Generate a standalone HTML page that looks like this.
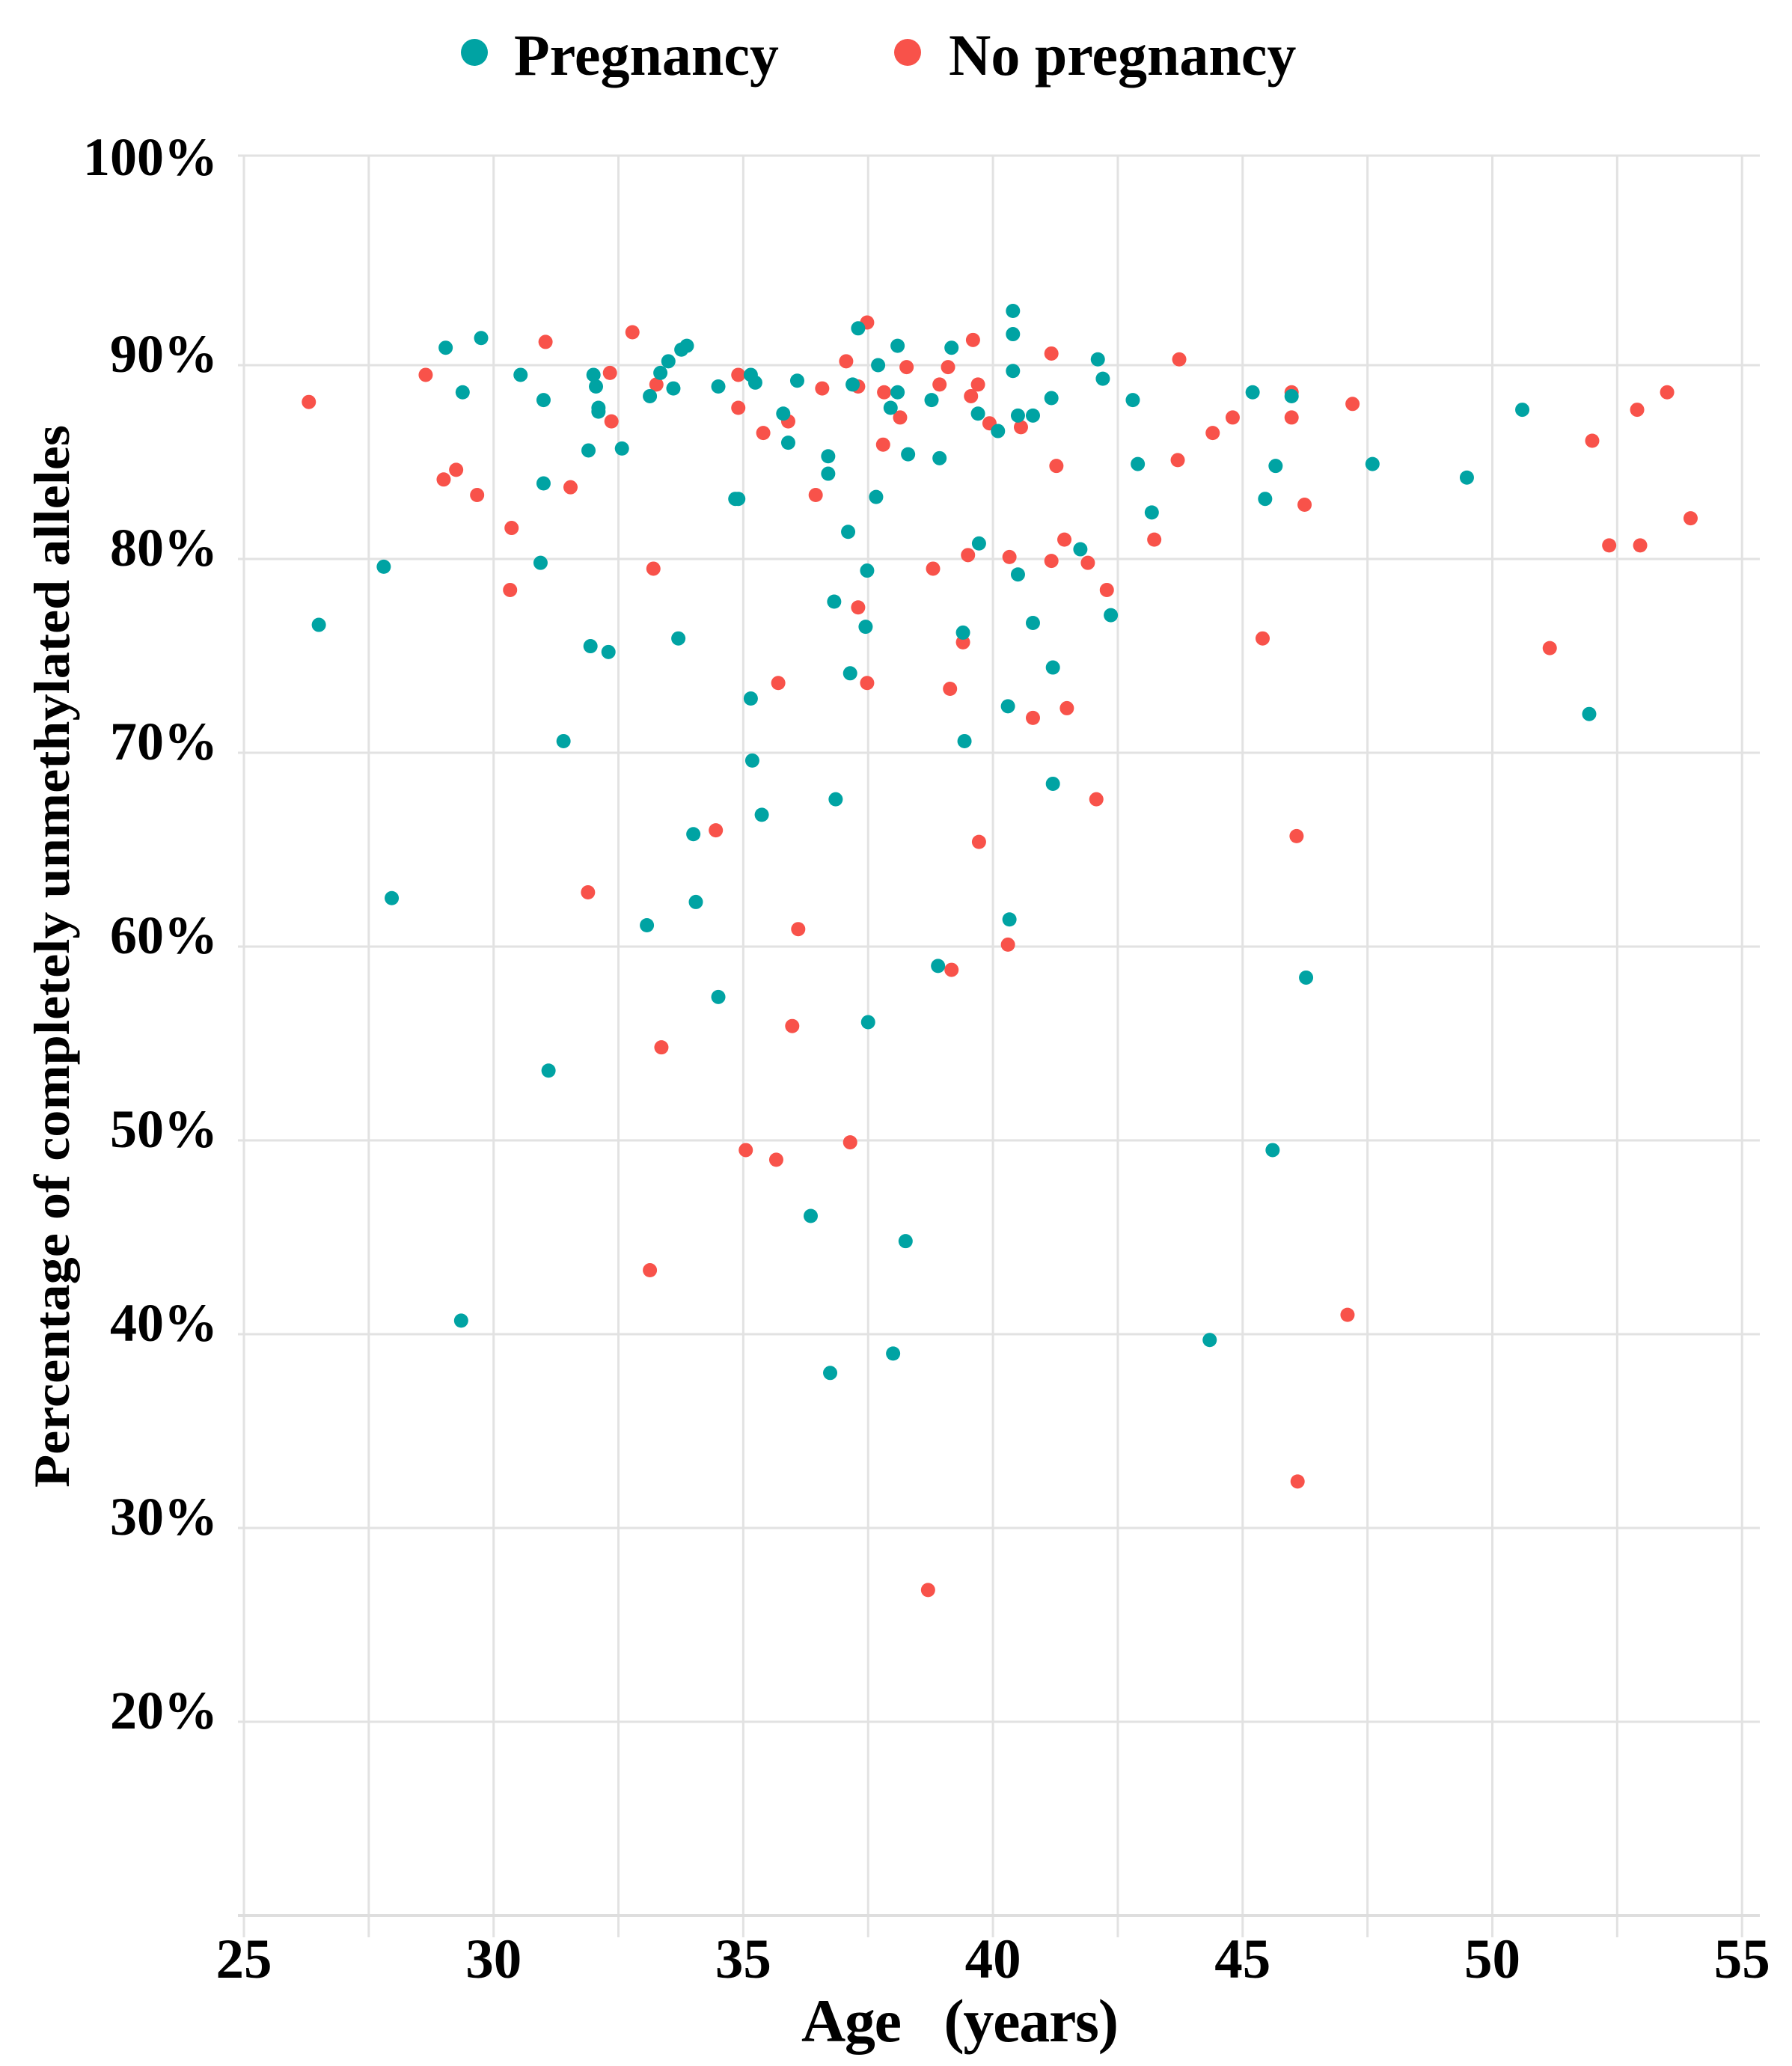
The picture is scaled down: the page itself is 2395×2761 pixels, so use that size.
<!DOCTYPE html>
<html><head><meta charset="utf-8"><style>
html,body{margin:0;padding:0;background:#fff;}
svg{display:block;}
text{font-family:"Liberation Serif",serif;font-weight:bold;fill:#000;}
</style></head><body>
<svg id="chart" width="2395" height="2761" viewBox="0 0 2395 2761" xmlns="http://www.w3.org/2000/svg">
<g id="grid"></g>
<g id="axes"></g>
<g id="pts"></g>
<g>
<circle cx="634" cy="70" r="18" fill="#00A3A3"/>
<text x="687" y="100" font-size="78">Pregnancy</text>
<circle cx="1213" cy="70" r="18" fill="#F8524A"/>
<text x="1268" y="100" font-size="78">No pregnancy</text>
</g>
<text x="1071" y="2728" font-size="82" textLength="424" lengthAdjust="spacing" xml:space="preserve">Age   (years)</text>
<text transform="translate(92,1278) rotate(-90)" text-anchor="middle" font-size="68" textLength="1420" lengthAdjust="spacingAndGlyphs">Percentage of completely unmethylated alleles</text>
</svg>
<script>
const xTicks = [25,30,35,40,45,50,55];
const xMinorTicks = [27.5,32.5,37.5,42.5,47.5,52.5];
const yTicks = [90,80,70,60,50,40,30,20];
const yTopTick = 100;
const pregAge = [26.5,27.8,27.96,29.04,29.38,29.75,29.35,30.54,31.0,31.0,30.94,31.4,31.1,32.0,32.05,32.1,32.1,31.9,32.57,31.94,32.3,33.07,33.13,33.34,33.5,33.6,33.76,33.87,33.7,34.0,34.05,34.5,34.5,34.84,34.9,35.15,35.24,35.15,35.18,35.37,35.8,35.9,36.08,36.7,36.7,36.35,36.74,36.82,36.85,37.1,37.14,37.19,37.3,37.45,37.48,37.5,37.66,37.7,37.95,38.09,38.09,38.3,38.0,38.25,38.77,38.9,38.93,39.17,39.4,39.43,39.7,39.72,40.1,40.4,40.4,40.4,40.5,40.8,40.5,40.8,40.3,40.33,41.17,41.2,41.2,41.75,42.1,42.2,42.36,42.8,42.9,43.18,44.34,45.2,45.45,45.66,45.6,45.98,46.27,47.6,49.49,50.6,51.94];
const pregPct = [76.6,79.6,62.5,90.9,88.6,91.4,40.7,89.5,88.2,83.9,79.8,70.6,53.6,89.5,88.9,87.8,87.6,85.6,85.7,75.5,75.2,61.1,88.4,89.6,90.2,88.8,90.8,91.0,75.9,65.8,62.3,88.9,57.4,83.1,83.1,89.5,89.1,72.8,69.6,66.8,87.5,86.0,89.2,85.3,84.4,46.1,38.0,77.8,67.6,81.4,74.1,89.0,91.9,76.5,79.4,56.1,83.2,90.0,87.8,88.6,91.0,85.4,39.0,44.8,88.2,59.0,85.2,90.9,76.2,70.6,87.5,80.8,86.6,92.8,91.6,89.7,87.4,87.4,79.2,76.7,72.4,61.4,88.3,74.4,68.4,80.5,90.3,89.3,77.1,88.2,84.9,82.4,39.7,88.6,83.1,84.8,49.5,88.4,58.4,84.9,84.2,87.7,72.0];
const noAge = [26.3,28.64,29.0,29.25,29.67,30.36,30.33,31.04,31.54,31.89,32.33,32.36,32.78,33.2,33.26,33.13,33.36,34.45,34.9,34.9,35.05,35.4,35.66,35.7,35.9,35.98,36.1,36.45,36.58,37.06,37.14,37.3,37.3,37.48,37.48,37.8,37.82,38.14,38.27,38.8,38.7,38.93,39.1,39.14,39.17,39.4,39.5,39.56,39.6,39.7,39.72,39.93,40.33,40.3,40.56,40.8,41.17,41.17,41.27,41.43,41.48,41.9,42.07,42.28,43.23,43.73,43.7,44.4,44.8,45.4,45.98,45.98,46.08,46.1,46.24,47.2,47.1,51.15,52.0,52.34,52.9,52.96,53.5,53.97];
const noPct = [88.1,89.5,84.1,84.6,83.3,81.6,78.4,91.2,83.7,62.8,89.6,87.1,91.7,79.5,89.0,43.3,54.8,66.0,89.5,87.8,49.5,86.5,49.0,73.6,87.1,55.9,60.9,83.3,88.8,90.2,49.9,88.9,77.5,73.6,92.2,85.9,88.6,87.3,89.9,79.5,26.8,89.0,89.9,73.3,58.8,75.7,80.2,88.4,91.3,89.0,65.4,87.0,80.1,60.1,86.8,71.8,90.6,79.9,84.8,81.0,72.3,79.8,67.6,78.4,81.0,90.3,85.1,86.5,87.3,75.9,88.6,87.3,65.7,32.4,82.8,88.0,41.0,75.4,86.1,80.7,87.7,80.7,88.6,82.1];

const NS = "http://www.w3.org/2000/svg";
function xs(a){ return 326 + (a - 25) * 66.74; }
function ys(v){ return 488 + (90 - v) * 25.9; }
const gridTop = 208, gridBottomExt = 2589, axisY = ys(10), gL = 318, gR = 2352;
const grid = document.getElementById('grid');
const axes = document.getElementById('axes');
const pts = document.getElementById('pts');
function mk(tag, attrs, parent){
  const e = document.createElementNS(NS, tag);
  for (const k in attrs) e.setAttribute(k, attrs[k]);
  parent.appendChild(e);
  return e;
}
xTicks.concat(xMinorTicks).forEach(t => {
  const l = mk('line', {x1: xs(t), x2: xs(t), y1: gridTop, y2: gridBottomExt, stroke: '#e2e2e2', 'stroke-width': 3}, grid);
  
  
});
yTicks.forEach(t => {
  const l = mk('line', {x1: gL, x2: gR, y1: ys(t), y2: ys(t), stroke: '#e2e2e2', 'stroke-width': 3}, grid);
  
  
  const tx = mk('text', {x: 291, y: ys(t) + 9, 'text-anchor': 'end', 'font-size': 72}, axes);
  tx.textContent = t + '%';
  
  
});
const tl = mk('line', {x1: gL, x2: gR, y1: gridTop, y2: gridTop, stroke: '#e2e2e2', 'stroke-width': 3}, grid);


const tt = mk('text', {x: 291, y: ys(yTopTick) + 5, 'text-anchor': 'end', 'font-size': 72}, axes);
tt.textContent = yTopTick + '%';


const ax = mk('line', {x1: gL, x2: gR, y1: axisY, y2: axisY, stroke: '#dedede', 'stroke-width': 4}, axes);


xTicks.forEach(t => {
  const tx = mk('text', {x: xs(t), y: 2643, 'text-anchor': 'middle', 'font-size': 75}, axes);
  tx.textContent = String(t);
  
  
});
noAge.forEach((a, i) => {
  const c = mk('circle', {cx: xs(a), cy: ys(noPct[i]), r: 9.5, fill: '#F8524A'}, pts);
  
  
});
pregAge.forEach((a, i) => {
  const c = mk('circle', {cx: xs(a), cy: ys(pregPct[i]), r: 9.5, fill: '#00A3A3'}, pts);
  
  
});
</script>
</body></html>
